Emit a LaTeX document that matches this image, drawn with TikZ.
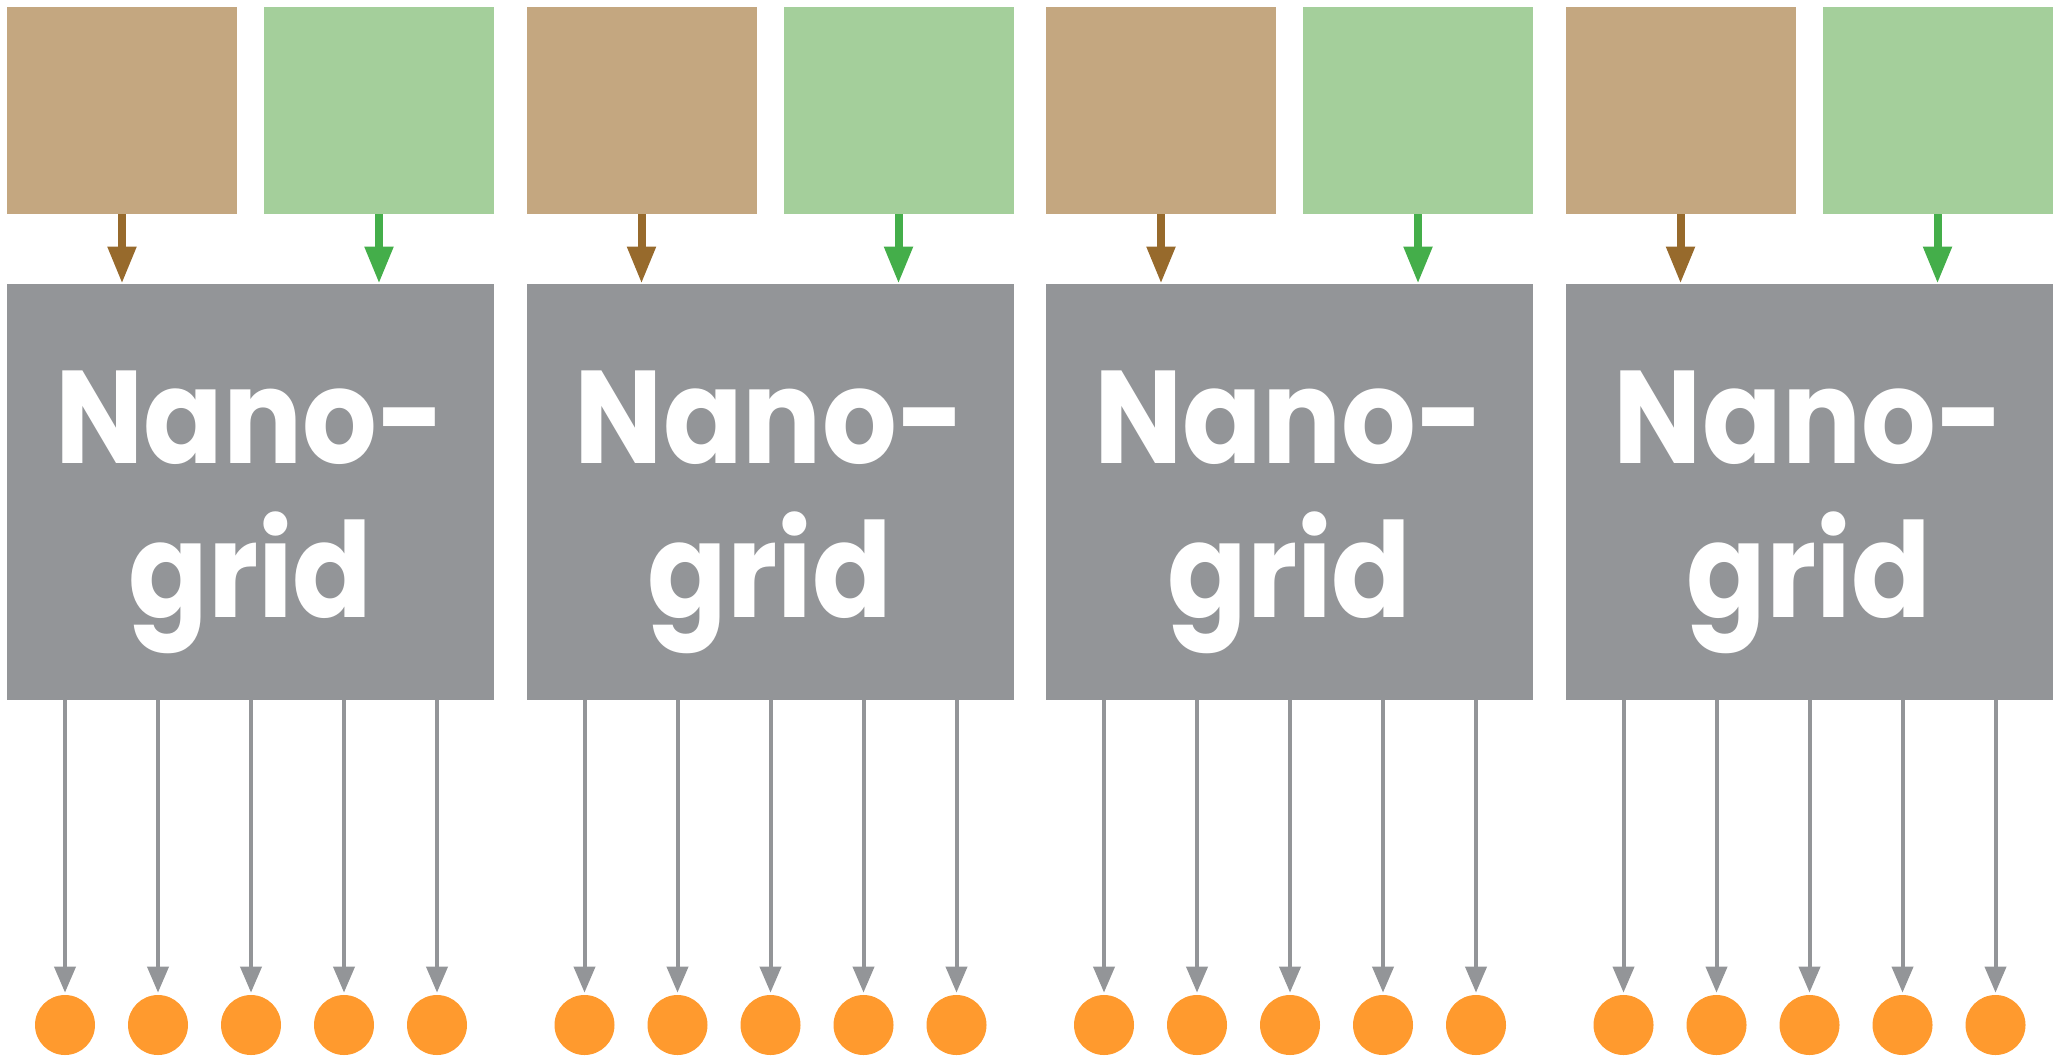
\documentclass[tikz,border=0pt]{standalone}
\usepackage{fontspec}
\newfontfamily\gridfont[FakeStretch=0.89]{Poppins}
\usetikzlibrary{positioning,arrows.meta}
\definecolor{brownbox}{HTML}{C4A780}
\definecolor{greenbox}{HTML}{A4CF9B}
\definecolor{gridgray}{HTML}{939598}
\definecolor{brownarrow}{HTML}{976A2C}
\definecolor{greenarrow}{HTML}{44AE4A}
\definecolor{loadorange}{HTML}{FF9A2E}
\tikzstyle{feed} = [line width=4pt, -{Triangle[length=18.5pt,width=13.5pt]}]
\tikzstyle{tap} = [line width=2pt, draw=gridgray, shorten >=1pt, -{Triangle[length=13pt,width=10.5pt]}]

\begin{document}
\begin{tikzpicture}[
    x=0.5pt, y=-0.5pt,
    source/.style={
        rectangle,
        minimum width=115pt,
        minimum height=103.5pt,
        inner sep=0pt
    },
    nanogrid/.style={
        rectangle,
        fill=gridgray,
        minimum width=243.5pt,
        minimum height=208pt,
        inner sep=0pt,
        text=white,
        align=center,
        font=\gridfont\bfseries\fontsize{66}{77}\selectfont
    },
    load/.style={
        circle,
        fill=loadorange,
        minimum size=30pt,
        inner sep=0pt
    }
    ]

    \useasboundingbox (0,0) rectangle (2059,1060);

    \foreach \g/\x in {1/7, 2/526.5, 3/1046, 4/1565.5} {
        % sources
        \node[source, fill=brownbox] (brown\g) at (\x+115,110.5) {};
        \node[source, fill=greenbox] (green\g) at (\x+372,110.5) {};

        % Nanogrid box
        \node[nanogrid] (nano\g) at (\x+243.5,492) {\rule{0pt}{67pt}Nano-\\grid};

        \draw[feed, draw=brownarrow] (brown\g.south) -- (brown\g.south |- nano\g.north);
        \draw[feed, draw=greenarrow] (green\g.south) -- (green\g.south |- nano\g.north);

        % loads
        \foreach \k in {0,...,4} {
            \node[load] (load-\g-\k) at ({\x+58+93*\k},1025) {};
            \draw[tap] (nano\g.south -| load-\g-\k) -- (load-\g-\k.north);
        }
    }
\end{tikzpicture}
\end{document}
